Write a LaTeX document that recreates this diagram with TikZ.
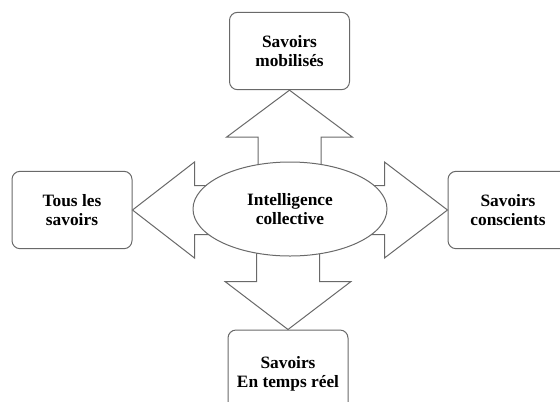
\documentclass[tikz,border=0pt]{standalone}
\usepackage{fontspec}
\setmainfont{Liberation Serif}
\usetikzlibrary{shapes.geometric}

\definecolor{edgegray}{RGB}{105,105,105}

\tikzset{
    savoirbox/.style = {draw = edgegray, fill = white, line width = 0.75pt, rounded corners = 6pt,
        minimum width = 90pt, minimum height = 58pt, inner sep = 0pt, align = center,
        font = \rmfamily\bfseries\fontsize{13}{14}\selectfont},
    centre/.style = {draw = edgegray, fill = white, line width = 0.75pt, ellipse,
        minimum width = 145.5pt, minimum height = 70.5pt, inner sep = 0pt, align = center,
        font = \rmfamily\bfseries\fontsize{13}{14}\selectfont},
    blockarrow/.style = {draw = edgegray, fill = white, line width = 0.75pt, line join = miter}
}

\begin{document}
\begin{tikzpicture}[x = 0.75pt, y = -0.75pt]
    \useasboundingbox (0,0) rectangle (560,401);
    \clip (0,0) rectangle (560,401);

    \node [savoirbox] (mobilises)  at (289.5,51) {Savoirs\\mobilisés};
    \node [savoirbox] (tous)       at (72,210)   {Tous les\\savoirs};
    \node [savoirbox] (conscients) at (508,210)  {Savoirs\\conscients};
    \node [savoirbox, minimum height = 66pt] (reel) at (288,374) {Savoirs\\En temps réel};

    \path [blockarrow] (mobilises.south)  -- ++(63,47)  -- ++(-31.5,0) -- ++(0,45)  -- ++(-63,0) -- ++(0,-45) -- ++(-31.5,0) -- cycle;
    \path [blockarrow] (tous.east)        -- ++(62,-48) -- ++(0,23.5)  -- ++(40,0)  -- ++(0,49)   -- ++(-40,0) -- ++(0,23.5)  -- cycle;
    \path [blockarrow] (conscients.west)  -- ++(-63,-48) -- ++(0,23.5) -- ++(-40,0) -- ++(0,49)   -- ++(40,0)  -- ++(0,23.5)  -- cycle;
    \path [blockarrow] (reel.north)       -- ++(63,-48) -- ++(-31.5,0) -- ++(0,-45) -- ++(-63,0) -- ++(0,45)  -- ++(-31.5,0) -- cycle;

    \node [centre] (intelligence) at (290,209) {Intelligence\\collective};
\end{tikzpicture}
\end{document}
